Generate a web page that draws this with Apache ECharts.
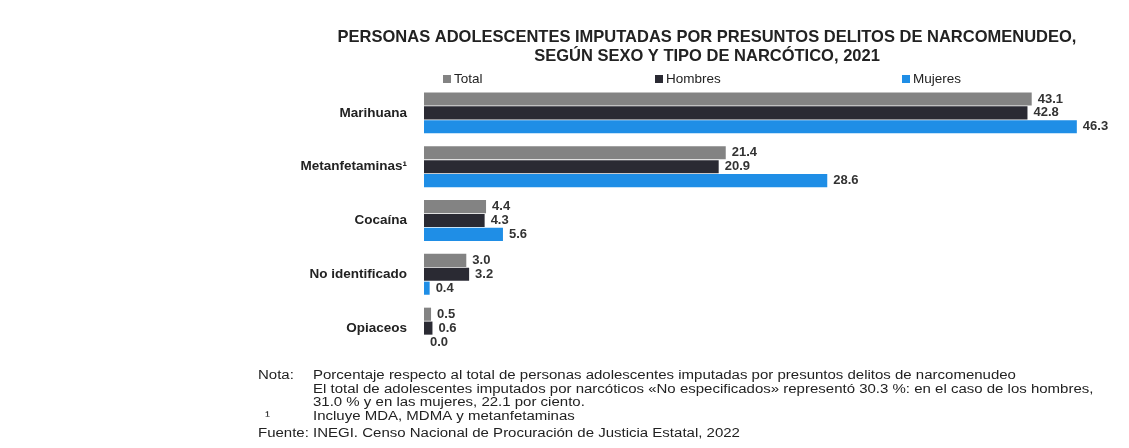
<!DOCTYPE html>
<html>
<head>
<meta charset="utf-8">
<script src="https://cdn.jsdelivr.net/npm/echarts@6/dist/echarts.min.js"></script>
<style>
html,body{margin:0;padding:0;background:#fff;}
#chart{width:1129px;height:448px;}
</style>
</head>
<body>
<div id="chart"></div>
<script>
const categories = ['Marihuana', 'Metanfetaminas¹', 'Cocaína', 'No identificado', 'Opiaceos'];
const totalValues = [43.1, 21.4, 4.4, 3.0, 0.5];
const hombresValues = [42.8, 20.9, 4.3, 3.2, 0.6];
const mujeresValues = [46.3, 28.6, 5.6, 0.4, 0.0];
const seriesNames = ['Total', 'Hombres', 'Mujeres'];
const noteLines = [
  'Porcentaje respecto al total de personas adolescentes imputadas por presuntos delitos de narcomenudeo',
  'El total de adolescentes imputados por narcóticos «No especificados» representó 30.3 %: en el caso de los hombres,',
  '31.0 % y en las mujeres, 22.1 por ciento.',
  'Incluye MDA, MDMA y metanfetaminas'
];
const sourceLine = 'Fuente: INEGI. Censo Nacional de Procuración de Justicia Estatal, 2022';

const colors = ['#838383', '#2a2a33', '#1f8ee6'];
const FONT = '"Liberation Sans", Arial, sans-serif';

const chart = echarts.init(document.getElementById('chart'));

const labelCfg = {
  show: true,
  position: 'right',
  distance: 6,
  color: '#333',
  fontFamily: FONT,
  fontSize: 13,
  fontWeight: 'bold',
  formatter: p => p.value.toFixed(1)
};

const legendPos = [438, 650, 897];
const noteFont = '12.5px ' + FONT;
const noteScale = 1.2;

function noteText(t, x, y) {
  return { type: 'text', x: x, y: y, scaleX: noteScale, style: { text: t, font: noteFont, fill: '#222', textVerticalAlign: 'middle' } };
}

chart.setOption({
  animation: false,
  title: {
    text: 'PERSONAS ADOLESCENTES IMPUTADAS POR PRESUNTOS DELITOS DE NARCOMENUDEO,\nSEGÚN SEXO Y TIPO DE NARCÓTICO, 2021',
    left: 702,
    top: 23,
    textAlign: 'center',
    textStyle: {
      fontFamily: FONT,
      fontSize: 16.5,
      fontWeight: 'bold',
      color: '#222',
      lineHeight: 19
    }
  },
  legend: seriesNames.map((n, i) => ({
    data: [n],
    left: legendPos[i],
    top: 67,
    itemWidth: 8,
    itemHeight: 8,
    itemGap: 4,
    icon: 'rect',
    textStyle: { fontFamily: FONT, fontSize: 13.5, color: '#222', padding: [0, 0, 0, -2] }
  })),
  grid: { left: 424, right: 0, top: 86, bottom: 93, containLabel: false },
  xAxis: {
    type: 'value',
    min: 0,
    max: 50,
    show: false
  },
  yAxis: {
    type: 'category',
    data: categories,
    inverse: true,
    axisLine: { show: false },
    axisTick: { show: false },
    axisLabel: {
      margin: 17,
      color: '#222',
      fontFamily: FONT,
      fontSize: 13.5,
      fontWeight: 'bold'
    }
  },
  series: [totalValues, hombresValues, mujeresValues].map((d, i) => ({
    name: seriesNames[i],
    type: 'bar',
    data: d,
    barGap: '6%',
    barCategoryGap: '24%',
    itemStyle: { color: colors[i] },
    label: labelCfg
  })),
  graphic: [
    noteText('Nota:', 258, 376),
    ...noteLines.map((t, i) => noteText(t, 313, 376 + i * 13.5)),
    noteText('¹', 265, 416.5),
    noteText(sourceLine, 258, 434)
  ]
});
</script>
</body>
</html>
